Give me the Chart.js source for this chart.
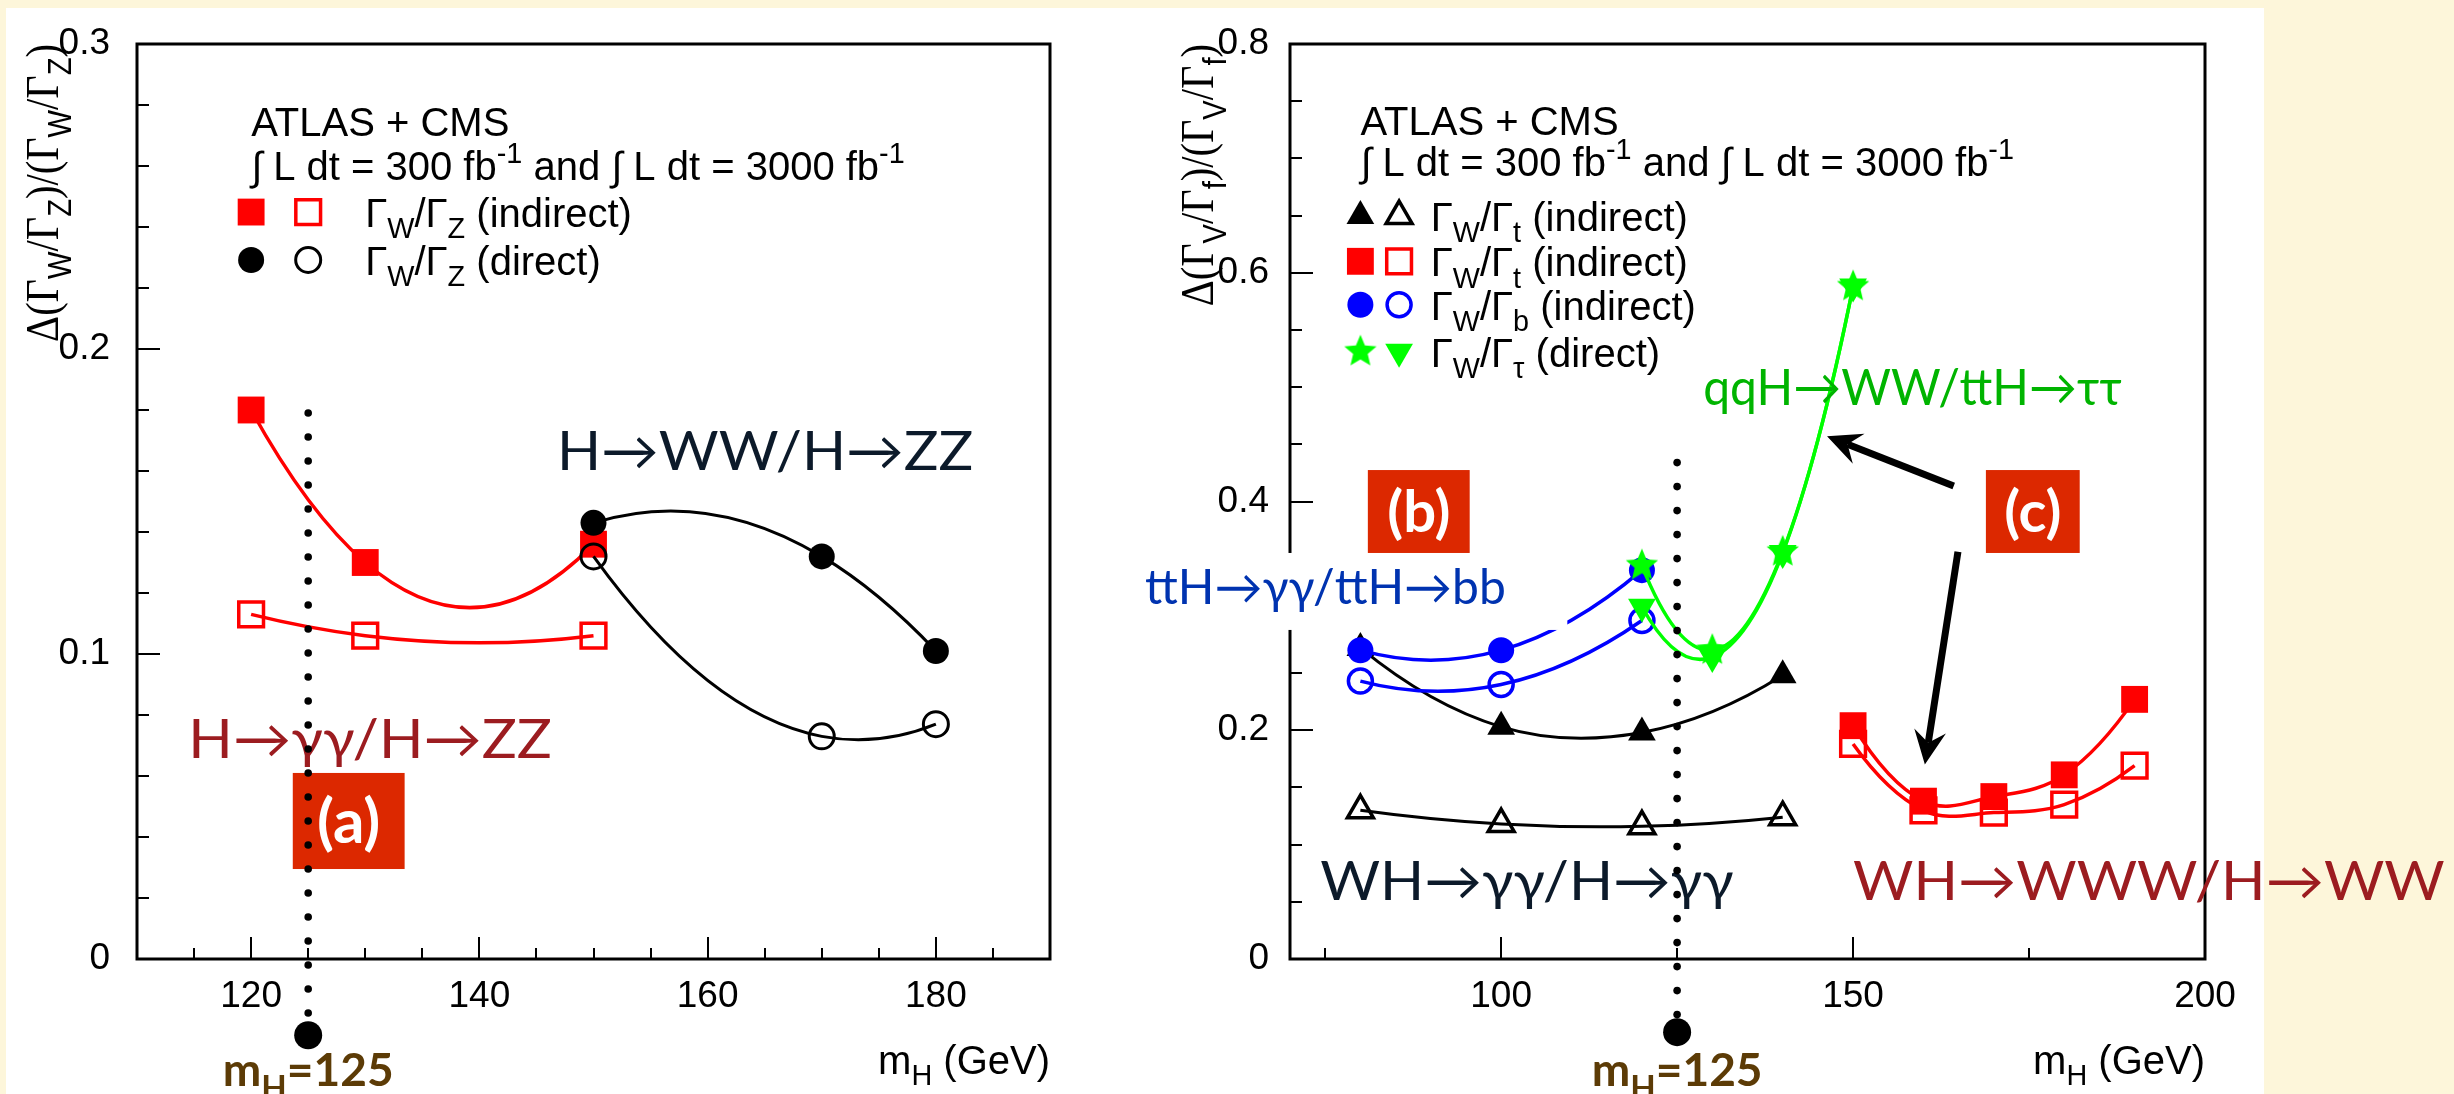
<!DOCTYPE html>
<html>
<head>
<meta charset="utf-8">
<title>Width ratio precision vs m_H</title>
<script src="https://cdn.jsdelivr.net/npm/chart.js@4.4.1/dist/chart.umd.min.js"></script>
<style>
  body { margin: 0; width: 2454px; height: 1094px; background: #fdf6da; overflow: hidden; }
  #sheet { position: absolute; left: 6px; top: 8px; width: 2258px; height: 1086px; background: #fff; }
  canvas { position: absolute; left: 0; top: 0; }
</style>
</head>
<body>
<div id="sheet"></div>
<canvas id="panelA" width="2454" height="1094"></canvas>
<canvas id="panelB" width="2454" height="1094"></canvas>
<script>
// panel (a): Gamma_W / Gamma_Z
const massZIndirect = [120, 130, 150]
const wzIndirect300 = [0.180, 0.130, 0.136]
const wzIndirect3000 = [0.113, 0.106, 0.106]
const massZDirect = [150, 170, 180]
const wzDirect300 = [0.143, 0.132, 0.101]
const wzDirect3000 = [0.132, 0.073, 0.077]

// panels (b), (c): Gamma_V / Gamma_f
const massGG = [80, 100, 120, 140]
const wtGG300 = [0.272, 0.203, 0.198, 0.248]
const wtGG3000 = [0.130, 0.118, 0.116, 0.124]
const massWW = [150, 160, 170, 180, 190]
const wtWW300 = [0.204, 0.138, 0.142, 0.161, 0.227]
const wtWW3000 = [0.188, 0.130, 0.128, 0.135, 0.169]
const massBB = [80, 100, 120]
const wb300 = [0.270, 0.270, 0.340]
const wb3000 = [0.243, 0.240, 0.296]
const massTau = [120, 130, 140, 150]
const wtau300 = [0.344, 0.270, 0.356, 0.588]
const wtau3000 = [0.308, 0.264, 0.355, 0.588]

const higgsMass = 125

// axis ranges, tick steps and labelled ticks
const xRangeA = [110, 190], xStepA = 5, xLabelsA = [120, 140, 160, 180]
const yRangeA = [0, 0.3], yStepA = 0.02, yLabelsA = [0, 0.1, 0.2, 0.3]
const xRangeB = [70, 200], xStepB = 25, xLabelsB = [100, 150, 200]
const yRangeB = [0, 0.8], yStepB = 0.05, yLabelsB = [0, 0.2, 0.4, 0.6, 0.8]

const ROOT_FONT = '"Liberation Sans", Arial, sans-serif'
const SERIF = '"Liberation Serif", "DejaVu Serif", serif'
const LABEL_FONT = 'Lato, "Noto Sans", sans-serif'
const RED = '#ff0000', BLUE = '#0000ff', GREEN = '#00ff00', BLACK = '#000000'
const NAVY = '#0c1a2a', WINE = '#9c1c20', TAG = '#dc2800', BROWN = '#5c3b06'
const NONE = 'rgba(0,0,0,0)'

const pts = (xs, ys) => xs.map((x, i) => ({x, y: ys[i]}))
const isOneOf = (v, list) => list.some(m => Math.abs(m - v) < 1e-9)
// tick values on multiples of step inside [a, b]
function range(a, b, step) {
	const out = []
	for (let k = Math.ceil(a / step - 1e-9); k * step <= b + 1e-9; k++) out.push(Math.round(k * step * 1000) / 1000)
	return out
}

function starImage(color, r) {
	const c = document.createElement('canvas')
	c.width = c.height = Math.ceil(2 * r + 2)
	const g = c.getContext('2d')
	g.translate(c.width / 2, c.height / 2)
	g.beginPath()
	for (let k = 0; k < 10; k++) {
		const rr = k % 2 ? r * 0.45 : r
		const a = -Math.PI / 2 + k * Math.PI / 5
		g.lineTo(rr * Math.cos(a), rr * Math.sin(a))
	}
	g.closePath()
	g.fillStyle = color
	g.fill()
	return c
}

function series(label, xs, ys, color, style, filled, size, more) {
	return Object.assign({
		label,
		data: pts(xs, ys),
		showLine: true,
		tension: 0.4,
		borderColor: color,
		borderWidth: 3.5,
		pointStyle: style,
		pointRadius: size,
		pointBackgroundColor: filled ? color : NONE,
		pointBorderColor: color,
		pointBorderWidth: filled ? 0 : 3.5
	}, more)
}

// smooth curves: tangent at each point taken from the parabola through it and its neighbours
const parabolicCurves = {
	id: 'parabolicCurves',
	afterDatasetsUpdate(chart) {
		chart.getSortedVisibleDatasetMetas().forEach(meta => {
			const p = meta.data, n = p.length
			if (!meta.dataset || n < 3) return
			const slope = p.map((_, i) => {
				const j = Math.min(Math.max(i, 1), n - 2)
				const h0 = p[j].x - p[j - 1].x, h1 = p[j + 1].x - p[j].x
				const d0 = (p[j].y - p[j - 1].y) / h0, d1 = (p[j + 1].y - p[j].y) / h1
				if (i < j) return ((2 * h0 + h1) * d0 - h0 * d1) / (h0 + h1)
				if (i > j) return ((2 * h1 + h0) * d1 - h1 * d0) / (h0 + h1)
				return (h1 * d0 + h0 * d1) / (h0 + h1)
			})
			p.forEach((pt, i) => {
				const hl = i > 0 ? (pt.x - p[i - 1].x) / 3 : 0
				const hr = i < n - 1 ? (p[i + 1].x - pt.x) / 3 : 0
				pt.cp1x = pt.x - hl; pt.cp1y = pt.y - slope[i] * hl
				pt.cp2x = pt.x + hr; pt.cp2y = pt.y + slope[i] * hr
			})
			meta.dataset._pointsUpdated = true
		})
	}
}

function runFont(run, size, family, weight) {
	const s = run[1] ? size * 0.72 : size
	return (weight || '') + ' ' + s + 'px ' + (run[2] || family)
}

function drawRich(ctx, runs, x, y, size, family, align, weight) {
	let w = 0
	runs.forEach(r => { ctx.font = runFont(r, size, family, weight); w += ctx.measureText(r[0]).width })
	let cx = align === 'right' ? x - w : align === 'center' ? x - w / 2 : x
	ctx.textAlign = 'left'
	runs.forEach(r => {
		ctx.font = runFont(r, size, family, weight)
		const dy = r[1] === 'sub' ? size * 0.28 : r[1] === 'sup' ? -size * 0.42 : 0
		ctx.fillText(r[0], cx, y + dy)
		cx += ctx.measureText(r[0]).width
	})
	return w
}

function drawArrow(ctx, x1, y1, x2, y2) {
	const len = Math.hypot(x2 - x1, y2 - y1)
	ctx.save()
	ctx.translate(x2, y2)
	ctx.rotate(Math.atan2(y2 - y1, x2 - x1))
	ctx.strokeStyle = BLACK
	ctx.fillStyle = BLACK
	ctx.lineWidth = 7
	ctx.beginPath(); ctx.moveTo(-len, 0); ctx.lineTo(-22, 0); ctx.stroke()
	ctx.beginPath(); ctx.moveTo(0, 0); ctx.lineTo(-34, -16); ctx.lineTo(-22, 0); ctx.lineTo(-34, 16); ctx.closePath(); ctx.fill()
	ctx.restore()
}

// ROOT style frame with inward ticks
function rootFrame(xMajor, yMajor) {
	return {
		id: 'rootFrame',
		beforeDatasetsDraw(chart) {
			const {ctx, chartArea: a, scales: {x, y}} = chart
			ctx.save()
			ctx.strokeStyle = BLACK
			ctx.lineWidth = 2
			ctx.beginPath()
			x.ticks.forEach(t => {
				if (t.value <= x.min || t.value >= x.max) return
				const px = Math.round(x.getPixelForValue(t.value)), len = isOneOf(t.value, xMajor) ? 22 : 11
				ctx.moveTo(px, a.bottom); ctx.lineTo(px, a.bottom - len)
			})
			y.ticks.forEach(t => {
				if (t.value <= y.min || t.value >= y.max) return
				const py = Math.round(y.getPixelForValue(t.value)), len = isOneOf(t.value, yMajor) ? 23 : 12
				ctx.moveTo(a.left, py); ctx.lineTo(a.left + len, py)
			})
			ctx.stroke()
			ctx.lineWidth = 3
			ctx.strokeRect(a.left, a.top, a.right - a.left, a.bottom - a.top)
			ctx.restore()
		}
	}
}

// legend, labels, arrows and the m_H = 125 marker
function decorations(cfg) {
	return {
		id: 'decorations',
		afterDatasetsDraw(chart) {
			const {ctx, chartArea: area, scales: {x, y}} = chart
			const X = v => x.getPixelForValue(v), Y = v => y.getPixelForValue(v)
			ctx.save()
			ctx.textBaseline = 'alphabetic'

			ctx.fillStyle = BLACK
			cfg.legendHead.forEach(h => drawRich(ctx, h.runs, X(cfg.legendX), Y(h.y), 40, ROOT_FONT))
			cfg.legendRows.forEach(row => {
				row.sets.forEach((label, k) => {
					const idx = chart.data.datasets.findIndex(d => d.label === label)
					const o = chart.getDatasetMeta(idx).data[0].options
					ctx.fillStyle = o.backgroundColor
					ctx.strokeStyle = o.borderColor
					ctx.lineWidth = o.borderWidth
					Chart.helpers.drawPoint(ctx, o, X(cfg.markX[k]), Y(row.y))
				})
				ctx.fillStyle = BLACK
				drawRich(ctx, row.runs, X(cfg.textX), Y(row.y) + 15, 40, ROOT_FONT)
			})

			cfg.texts.forEach(t => {
				if (t.backdrop) {
					const b = t.backdrop
					ctx.fillStyle = '#fff'
					ctx.fillRect(X(b[0]), Y(b[3]), X(b[1]) - X(b[0]), Y(b[2]) - Y(b[3]))
				}
				ctx.save()
				ctx.translate(X(t.x), Y(t.y))
				ctx.scale(t.sx || 1, 1)
				ctx.fillStyle = t.color
				drawRich(ctx, [[t.t]], 0, 0, t.size, LABEL_FONT)
				ctx.restore()
			})

			cfg.tags.forEach(t => {
				const x0 = X(t.x0), x1 = X(t.x1), y0 = Y(t.y1), y1 = Y(t.y0)
				ctx.fillStyle = TAG
				ctx.fillRect(x0, y0, x1 - x0, y1 - y0)
				ctx.fillStyle = '#fff'
				ctx.font = 'bold ' + t.size + 'px ' + LABEL_FONT
				ctx.textAlign = 'center'
				ctx.textBaseline = 'middle'
				ctx.fillText(t.t, (x0 + x1) / 2, (y0 + y1) / 2 + 2)
				ctx.textBaseline = 'alphabetic'
			})

			cfg.arrows.forEach(a => drawArrow(ctx, X(a[0]), Y(a[1]), X(a[2]), Y(a[3])))

			// axis titles; the vertical one is set narrow, reading upwards from the top corner
			ctx.fillStyle = BLACK
			drawRich(ctx, [['m'], ['H', 'sub'], [' (GeV)']], area.right, area.bottom + 115, 40, ROOT_FONT, 'right')
			ctx.save()
			ctx.translate(cfg.yTitleX, area.top)
			ctx.rotate(-Math.PI / 2)
			ctx.scale(0.88, 1)
			drawRich(ctx, cfg.yTitle, 0, 0, 46, ROOT_FONT, 'right')
			ctx.restore()

			// dotted m_H line ending in a dot below the axis
			const hx = X(higgsMass), top = Y(cfg.higgs.top), dot = Y(cfg.higgs.dot)
			ctx.fillStyle = BLACK
			for (let py = top; py < dot - 14; py += 24) {
				ctx.beginPath(); ctx.arc(hx, py, 3.8, 0, 2 * Math.PI); ctx.fill()
			}
			ctx.beginPath(); ctx.arc(hx, dot, 14, 0, 2 * Math.PI); ctx.fill()
			ctx.fillStyle = BROWN
			drawRich(ctx, [['m'], ['H', 'sub'], ['=125']], hx, Y(cfg.higgs.label), 46, LABEL_FONT, 'center', 'bold')
			ctx.restore()
		}
	}
}

function axes(xr, xStep, xLabels, yr, yStep, yLabels, yWidth, yPad) {
	const font = {family: ROOT_FONT, size: 37}
	return {
		x: {
			type: 'linear', min: xr[0], max: xr[1],
			grid: {display: false}, border: {display: false},
			afterBuildTicks: s => { s.ticks = range(xr[0], xr[1], xStep).map(value => ({value})) },
			afterFit: s => { s.height = 135 },
			ticks: {autoSkip: false, maxRotation: 0, minRotation: 0, padding: 8, color: BLACK, font,
				callback: v => isOneOf(v, xLabels) ? String(v) : ''}
		},
		y: {
			type: 'linear', min: yr[0], max: yr[1],
			grid: {display: false}, border: {display: false},
			afterBuildTicks: s => { s.ticks = range(yr[0], yr[1], yStep).map(value => ({value})) },
			afterFit: s => { s.width = yWidth },
			ticks: {autoSkip: false, padding: yPad, color: BLACK, font,
				callback: v => isOneOf(v, yLabels) ? String(+v.toFixed(2)) : ''}
		}
	}
}

const ratioRuns = (a, b, tail) => [['Γ'], [a, 'sub'], ['/Γ'], [b, 'sub'], [tail]]
const lumiRuns = [['∫ L dt = 300 fb'], ['-1', 'sup'], [' and ∫ L dt = 3000 fb'], ['-1', 'sup']]
const yTitleRuns = (a, b) => [['Δ(Γ', '', SERIF], [a, 'sub'], ['/Γ', '', SERIF], [b, 'sub'],
	[')/(Γ', '', SERIF], [a, 'sub'], ['/Γ', '', SERIF], [b, 'sub'], [')', '', SERIF]]

const baseOptions = (padding, scales) => ({
	responsive: false,
	animation: false,
	devicePixelRatio: 1,
	events: [],
	layout: {padding},
	plugins: {legend: {display: false}, tooltip: {enabled: false}},
	scales
})

new Chart(document.getElementById('panelA'), {
	type: 'scatter',
	data: {
		datasets: [
			series('wzDirect300', massZDirect, wzDirect300, BLACK, 'circle', true, 13, {borderWidth: 3}),
			series('wzDirect3000', massZDirect, wzDirect3000, BLACK, 'circle', false, 12.5, {borderWidth: 3, pointBorderWidth: 3}),
			series('wzIndirect300', massZIndirect, wzIndirect300, RED, 'rect', true, 19),
			series('wzIndirect3000', massZIndirect, wzIndirect3000, RED, 'rect', false, 17.5)
		]
	},
	options: baseOptions({left: 0, top: 44, right: 1404, bottom: 0},
		axes(xRangeA, xStepA, xLabelsA, yRangeA, yStepA, yLabelsA, 137, 19)),
	plugins: [parabolicCurves, rootFrame(xLabelsA, yLabelsA), decorations({
		legendX: 120,
		legendHead: [{y: 0.2699, runs: [['ATLAS + CMS']]}, {y: 0.2554, runs: lumiRuns}],
		markX: [120, 125], textX: 130,
		legendRows: [
			{y: 0.2449, sets: ['wzIndirect300', 'wzIndirect3000'], runs: ratioRuns('W', 'Z', ' (indirect)')},
			{y: 0.2292, sets: ['wzDirect300', 'wzDirect3000'], runs: ratioRuns('W', 'Z', ' (direct)')}
		],
		texts: [
			{t: 'H→WW/H→ZZ', x: 146.8, y: 0.1603, color: NAVY, size: 54, sx: 1.07},
			{t: 'H→γγ/H→ZZ', x: 114.5, y: 0.0659, color: WINE, size: 54, sx: 1.08}
		],
		tags: [{t: '(a)', x0: 123.65, x1: 133.45, y0: 0.0295, y1: 0.061, size: 62}],
		arrows: [],
		higgs: {top: 0.179, dot: -0.025, label: -0.0416},
		yTitleX: 58,
		yTitle: yTitleRuns('W', 'Z')
	})]
})

new Chart(document.getElementById('panelB'), {
	type: 'scatter',
	data: {
		datasets: [
			series('tau300', massTau, wtau300, GREEN, starImage(GREEN, 17), true, 16),
			series('tau3000', massTau, wtau3000, GREEN, 'triangle', true, 16, {pointRotation: 180}),
			series('bb300', massBB, wb300, BLUE, 'circle', true, 13),
			series('bb3000', massBB, wb3000, BLUE, 'circle', false, 12),
			series('gg300', massGG, wtGG300, BLACK, 'triangle', true, 16, {borderWidth: 3}),
			series('gg3000', massGG, wtGG3000, BLACK, 'triangle', false, 15, {borderWidth: 3}),
			series('ww300', massWW, wtWW300, RED, 'rect', true, 19),
			series('ww3000', massWW, wtWW3000, RED, 'rect', false, 17.5)
		]
	},
	options: baseOptions({left: 1170, top: 44, right: 249, bottom: 0},
		axes(xRangeB, xStepB, xLabelsB, yRangeB, yStepB, yLabelsB, 120, 13)),
	plugins: [parabolicCurves, rootFrame(xLabelsB, yLabelsB), decorations({
		legendX: 80,
		legendHead: [{y: 0.7204, runs: [['ATLAS + CMS']]}, {y: 0.6846, runs: lumiRuns}],
		markX: [80, 85.5], textX: 90,
		legendRows: [
			{y: 0.6496, sets: ['gg300', 'gg3000'], runs: ratioRuns('W', 't', ' (indirect)')},
			{y: 0.6100, sets: ['ww300', 'ww3000'], runs: ratioRuns('W', 't', ' (indirect)')},
			{y: 0.5720, sets: ['bb300', 'bb3000'], runs: ratioRuns('W', 'b', ' (indirect)')},
			{y: 0.5310, sets: ['tau300', 'tau3000'], runs: ratioRuns('W', 'τ', ' (direct)')}
		],
		texts: [
			{t: 'qqH→WW/ttH→ττ', x: 128.7, y: 0.4844, color: '#00b400', size: 50, sx: 0.96},
			{t: 'ttH→γγ/ttH→bb', x: 49.4, y: 0.3104, color: '#0033b0', size: 48, backdrop: [48.7, 109.4, 0.2877, 0.355]},
			{t: 'WH→γγ/H→γγ', x: 74.3, y: 0.0516, color: NAVY, size: 54, sx: 1.07},
			{t: 'WH→WWW/H→WW', x: 150.0, y: 0.0516, color: WINE, size: 54, sx: 1.08}
		],
		tags: [
			{t: '(b)', x0: 81.06, x1: 95.53, y0: 0.355, y1: 0.4275, size: 58},
			{t: '(c)', x0: 168.87, x1: 182.2, y0: 0.355, y1: 0.4275, size: 58}
		],
		arrows: [[164.3, 0.4135, 146.3, 0.457], [164.9, 0.356, 160.2, 0.170]],
		higgs: {top: 0.434, dot: -0.064, label: -0.111},
		yTitleX: 1213,
		yTitle: yTitleRuns('V', 'f')
	})]
})
</script>
</body>
</html>
